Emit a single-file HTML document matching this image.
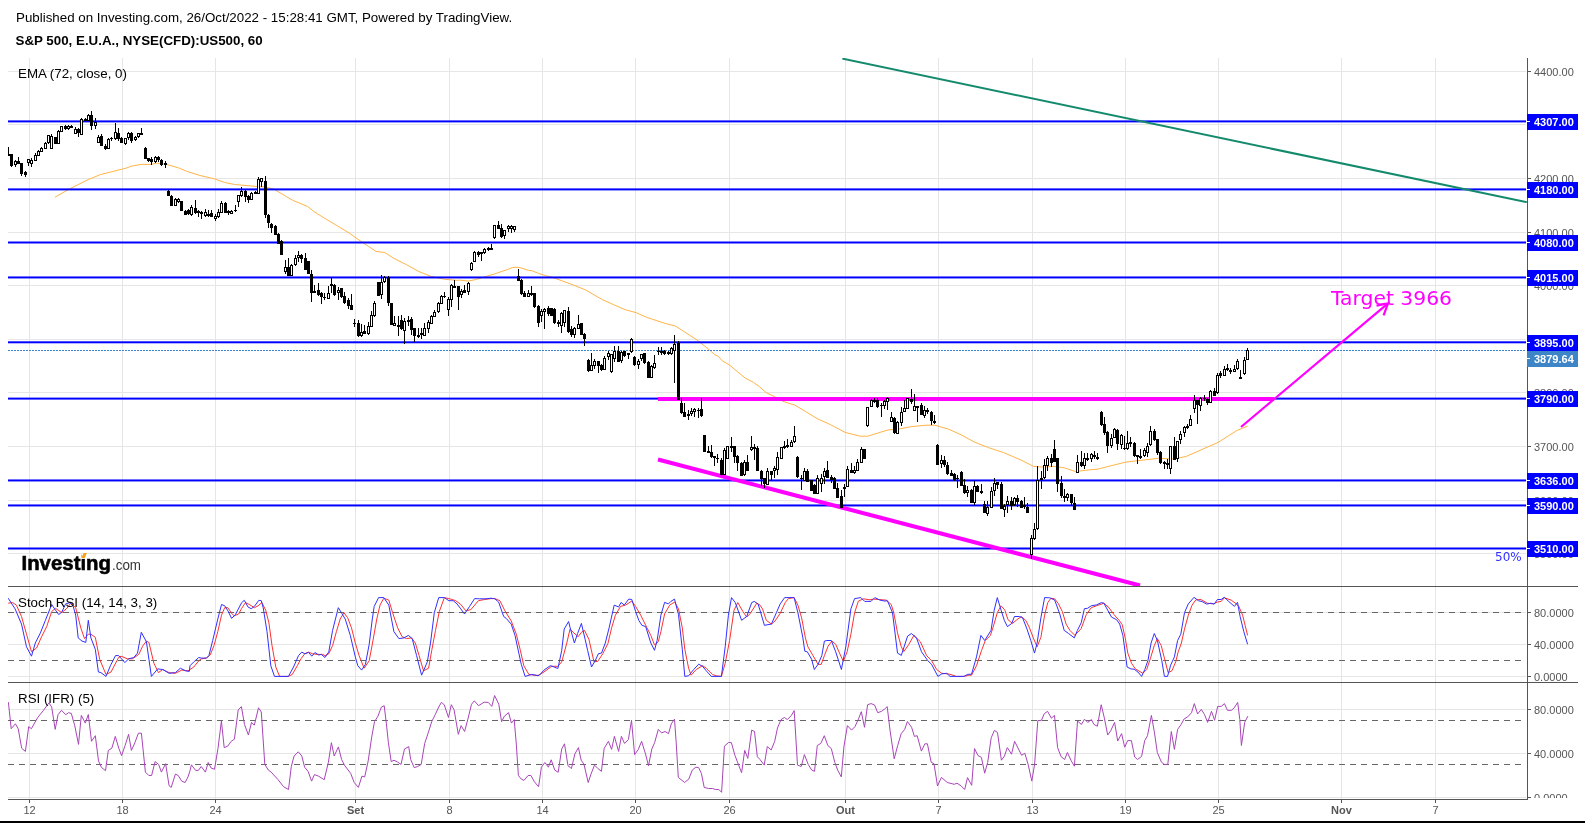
<!DOCTYPE html>
<html><head><meta charset="utf-8"><title>S&amp;P 500 chart</title>
<style>html,body{margin:0;padding:0;background:#fff;overflow:hidden}svg{display:block;will-change:transform}</style>
</head><body>
<svg width="1585" height="823" viewBox="0 0 1585 823" font-family="'Liberation Sans', Arial, sans-serif"><defs><clipPath id="cp"><rect x="8" y="58" width="1519" height="528"/></clipPath><clipPath id="cp2"><rect x="8" y="587" width="1519" height="95"/></clipPath><clipPath id="cp3"><rect x="8" y="683" width="1519" height="116"/></clipPath><clipPath id="cpa"><rect x="1528" y="683" width="57" height="115"/></clipPath></defs>
<rect x="29.0" y="58" width="1" height="741" fill="#e6e6e6"/>
<rect x="122.0" y="58" width="1" height="741" fill="#e6e6e6"/>
<rect x="215.0" y="58" width="1" height="741" fill="#e6e6e6"/>
<rect x="355.0" y="58" width="1" height="741" fill="#e6e6e6"/>
<rect x="449.0" y="58" width="1" height="741" fill="#e6e6e6"/>
<rect x="542.0" y="58" width="1" height="741" fill="#e6e6e6"/>
<rect x="635.0" y="58" width="1" height="741" fill="#e6e6e6"/>
<rect x="729.0" y="58" width="1" height="741" fill="#e6e6e6"/>
<rect x="845.0" y="58" width="1" height="741" fill="#e6e6e6"/>
<rect x="938.0" y="58" width="1" height="741" fill="#e6e6e6"/>
<rect x="1032.0" y="58" width="1" height="741" fill="#e6e6e6"/>
<rect x="1125.0" y="58" width="1" height="741" fill="#e6e6e6"/>
<rect x="1218.0" y="58" width="1" height="741" fill="#e6e6e6"/>
<rect x="1341.0" y="58" width="1" height="741" fill="#e6e6e6"/>
<rect x="1435.0" y="58" width="1" height="741" fill="#e6e6e6"/>
<rect x="8" y="71" width="1518" height="1" fill="#e6e6e6"/>
<rect x="8" y="124" width="1518" height="1" fill="#e6e6e6"/>
<rect x="8" y="178" width="1518" height="1" fill="#e6e6e6"/>
<rect x="8" y="232" width="1518" height="1" fill="#e6e6e6"/>
<rect x="8" y="285" width="1518" height="1" fill="#e6e6e6"/>
<rect x="8" y="339" width="1518" height="1" fill="#e6e6e6"/>
<rect x="8" y="392" width="1518" height="1" fill="#e6e6e6"/>
<rect x="8" y="446" width="1518" height="1" fill="#e6e6e6"/>
<rect x="8" y="500" width="1518" height="1" fill="#e6e6e6"/>
<rect x="8" y="553" width="1518" height="1" fill="#e6e6e6"/>
<rect x="8" y="612" width="1518" height="1" fill="#e6e6e6"/>
<rect x="8" y="644" width="1518" height="1" fill="#e6e6e6"/>
<rect x="8" y="676" width="1518" height="1" fill="#e6e6e6"/>
<rect x="8" y="709" width="1518" height="1" fill="#e6e6e6"/>
<rect x="8" y="753" width="1518" height="1" fill="#e6e6e6"/>
<rect x="8" y="797" width="1518" height="1" fill="#e6e6e6"/>
<line x1="8" y1="612.5" x2="1526" y2="612.5" stroke="#666" stroke-width="1" stroke-dasharray="6 5"/>
<line x1="8" y1="660.5" x2="1526" y2="660.5" stroke="#666" stroke-width="1" stroke-dasharray="6 5"/>
<line x1="8" y1="720.5" x2="1526" y2="720.5" stroke="#666" stroke-width="1" stroke-dasharray="6 5"/>
<line x1="8" y1="764.5" x2="1526" y2="764.5" stroke="#666" stroke-width="1" stroke-dasharray="6 5"/>
<polyline clip-path="url(#cp2)" points="8.2,603.2 12.6,602.6 16.4,605.1 21.5,616.5 26.5,634.2 31.5,651.8 36.6,648.0 41.6,636.7 46.7,626.6 51.7,611.5 55.5,608.3 61.8,612.7 66.9,608.3 70.7,603.2 75.7,607.7 80.8,627.9 84.5,638.6 88.3,634.2 90.9,634.2 95.3,637.3 99.7,659.4 106.0,674.5 111.0,672.0 118.6,657.5 121.1,656.2 127.4,658.8 132.5,658.8 138.8,654.4 142.6,646.2 146.4,641.1 148.9,642.4 153.9,663.2 158.4,672.6 162.8,669.5 169.1,672.6 175.4,673.3 181.7,670.1 188.0,670.8 190.0,669.5 193.8,667.0 198.8,660.7 201.4,658.8 206.4,658.1 210.2,655.0 214.0,645.5 217.8,631.6 221.5,615.2 224.7,607.7 227.9,607.7 231.6,613.3 234.2,615.9 238.6,614.0 241.7,608.3 245.5,602.6 249.3,604.5 254.4,607.7 258.1,605.8 261.9,602.6 265.7,610.2 268.9,622.8 272.0,645.5 275.8,667.0 279.6,676.4 288.4,676.4 292.2,674.5 297.3,665.7 301.0,658.8 304.8,653.7 308.6,652.1 312.4,653.7 317.4,654.4 322.5,654.4 325.0,655.6 328.8,653.7 332.6,645.5 336.4,631.6 340.2,619.0 343.9,612.7 347.7,617.8 351.5,627.9 355.3,643.0 359.1,655.6 364.1,668.2 369.2,660.7 372.3,644.3 376.8,619.0 380.0,605.1 383.8,598.2 388.8,600.1 392.6,612.7 397.7,627.9 402.1,636.7 406.5,638.6 411.5,637.9 415.3,643.0 419.1,655.6 423.5,670.8 428.6,668.2 431.7,650.6 435.5,630.4 439.3,611.5 444.4,597.6 450.7,599.1 455.7,600.7 460.8,604.5 465.8,610.8 470.9,609.6 478.4,600.7 484.7,599.5 491.0,598.6 494.8,598.6 499.9,600.7 504.9,610.8 511.2,620.9 516.3,634.2 520.1,649.3 523.8,665.7 528.9,674.5 537.7,675.6 544.0,672.0 551.6,666.3 557.9,666.3 561.7,661.9 566.8,643.0 570.0,629.1 573.8,632.9 578.2,636.7 581.4,632.3 584.5,630.4 588.9,639.2 594.0,661.9 597.8,661.3 602.8,653.7 607.9,643.6 611.6,627.9 615.4,615.2 620.5,606.4 625.5,605.1 631.8,601.1 635.6,606.4 640.7,615.2 645.7,625.3 650.8,635.4 654.5,644.9 658.3,641.7 660.9,631.6 664.6,614.0 669.7,605.1 674.7,602.0 678.5,608.9 682.3,627.9 684.8,649.3 688.6,668.2 691.1,675.2 696.2,669.5 702.5,665.7 706.3,668.2 712.6,674.5 716.4,675.8 721.4,676.4 725.2,663.2 729.6,640.5 734.0,610.2 737.8,602.6 742.9,611.5 746.7,617.1 750.4,613.3 756.8,603.2 760.0,605.1 762.5,608.9 766.3,620.3 771.4,624.1 775.1,620.9 780.2,613.3 785.2,602.6 788.4,598.6 794.1,597.6 797.9,605.1 801.6,617.8 805.4,637.9 807.9,646.8 813.0,655.6 818.0,664.4 821.2,664.4 824.4,655.6 828.1,646.2 831.9,641.1 835.7,644.3 839.5,653.1 843.3,661.3 847.1,651.8 850.9,634.2 854.6,612.7 858.4,601.1 863.5,598.8 869.8,599.8 873.6,599.1 878.6,599.5 886.2,600.1 891.2,604.5 893.8,612.7 897.5,632.9 901.3,646.8 903.8,651.6 908.9,644.3 913.9,635.4 920.3,641.7 926.6,655.6 931.6,660.7 936.7,669.5 941.7,673.3 948.0,673.9 950.0,674.3 956.3,676.4 963.9,676.4 968.9,675.2 971.5,675.2 976.5,665.7 981.5,650.6 985.3,640.5 990.4,635.4 992.9,627.9 997.3,612.7 1001.1,605.8 1004.9,610.2 1008.0,619.7 1012.5,623.4 1016.9,619.7 1021.3,616.5 1025.7,620.3 1029.5,627.9 1033.3,637.9 1037.1,646.8 1040.9,637.3 1044.6,615.2 1047.8,602.6 1050.9,598.2 1054.7,598.8 1058.5,603.9 1062.3,611.5 1066.1,624.1 1069.9,630.4 1074.9,635.4 1081.2,628.5 1086.3,614.6 1091.3,607.7 1096.4,605.8 1103.9,603.2 1109.0,607.7 1114.0,614.6 1119.1,620.3 1122.2,624.7 1125.2,637.9 1127.8,653.1 1131.5,663.2 1135.3,668.9 1142.9,673.3 1146.7,669.5 1150.5,658.1 1154.3,645.5 1157.4,638.6 1161.2,645.5 1164.4,658.1 1168.1,672.6 1171.9,670.8 1175.7,661.9 1178.2,651.8 1181.4,643.0 1184.5,629.1 1188.3,615.2 1192.1,605.1 1195.9,599.8 1200.9,599.5 1207.3,603.2 1213.6,603.9 1217.4,602.0 1221.1,601.4 1224.3,597.8 1231.2,600.1 1236.3,603.9 1238.8,606.4 1242.6,615.2 1245.1,625.3 1247.6,635.4" fill="none" stroke="#ff3030" stroke-width="1" stroke-linejoin="round"/><polyline clip-path="url(#cp2)" points="8.2,598.2 15.1,608.9 21.5,624.1 26.5,646.8 31.5,656.2 35.3,643.0 40.4,632.9 45.4,620.3 51.7,604.5 55.5,610.2 58.7,614.6 61.8,612.1 65.6,603.9 70.0,602.6 73.2,606.4 75.7,615.2 78.2,637.9 82.0,641.1 85.8,642.4 88.3,620.3 90.9,637.9 95.3,649.3 98.4,672.0 100.9,672.6 106.0,676.4 110.4,665.7 115.5,655.6 118.6,655.6 124.9,662.6 128.7,658.8 133.8,657.5 137.5,653.1 141.3,632.3 146.4,641.7 151.4,676.4 157.7,668.9 162.8,669.5 169.1,673.3 175.4,672.6 180.4,668.2 185.5,670.8 189.3,671.4 190.0,665.7 193.8,661.9 198.8,657.5 201.4,658.1 206.4,658.1 208.9,655.6 212.7,640.5 217.8,619.0 221.5,604.5 224.7,605.8 227.9,610.8 231.6,618.4 235.4,614.6 241.7,602.6 244.3,600.3 248.0,607.0 251.2,608.7 254.4,606.4 258.8,600.3 261.3,600.7 263.2,607.7 267.0,631.6 270.8,665.7 274.5,676.4 288.4,676.4 293.5,667.0 298.5,655.6 301.7,652.1 304.8,653.7 308.6,652.5 311.8,656.2 314.9,652.5 318.7,655.0 321.2,654.4 325.0,657.5 328.8,651.8 332.6,630.4 338.3,607.7 341.4,612.7 345.2,619.0 350.3,635.4 355.3,656.9 357.8,665.7 361.6,670.1 365.4,664.4 369.2,644.3 372.3,619.0 374.2,606.4 378.6,597.6 380.0,597.6 383.8,597.6 388.8,605.1 393.9,631.6 398.9,638.6 404.0,637.9 408.4,635.4 412.2,638.6 416.6,655.6 421.6,675.2 427.3,661.9 430.5,643.0 434.3,612.7 438.7,597.6 444.4,597.6 448.8,600.7 453.2,600.7 457.0,603.9 460.8,608.9 464.5,614.0 469.6,606.4 474.6,598.6 479.7,598.8 486.0,598.8 491.0,598.2 494.8,598.8 498.6,602.0 503.7,616.5 506.2,618.4 511.2,624.1 515.0,635.4 518.8,653.1 521.3,664.4 525.1,676.4 531.4,674.5 539.0,675.6 544.0,670.1 550.3,665.7 554.1,667.0 557.9,668.5 561.7,650.6 564.2,629.1 568.6,621.5 570.0,627.2 574.4,643.0 577.6,633.5 581.4,623.4 585.1,639.2 587.7,650.6 591.5,667.0 595.2,660.7 598.4,653.7 601.5,653.1 605.3,643.0 609.1,627.9 614.2,605.1 618.6,607.0 621.1,602.4 624.3,605.1 628.7,599.1 631.8,599.5 635.6,611.5 638.8,620.3 641.9,625.3 645.7,626.6 650.8,643.0 654.5,650.3 657.1,640.5 660.9,615.2 664.6,602.4 668.4,603.9 670.9,601.4 674.5,599.1 678.5,614.6 682.3,649.3 684.8,676.4 688.6,675.8 693.7,669.5 698.7,664.2 702.5,666.3 706.3,670.8 711.3,676.4 721.4,676.4 725.2,646.8 728.4,615.2 731.5,597.6 735.3,602.6 741.6,620.3 746.7,616.5 751.7,602.6 754.2,601.4 758.0,603.9 760.0,610.2 764.4,625.3 771.4,624.1 776.4,612.7 780.2,603.9 784.6,597.6 794.1,597.6 797.9,612.7 802.9,637.9 804.8,651.2 807.3,651.8 811.7,659.4 814.3,669.5 818.0,664.4 821.8,655.6 824.4,641.1 826.9,640.5 831.3,640.5 835.7,651.8 841.4,669.5 845.8,646.8 850.9,608.9 854.6,598.6 860.9,597.6 864.7,601.4 871.0,601.4 874.8,597.6 879.9,600.1 884.9,601.1 887.4,600.7 892.5,612.7 897.5,653.1 901.3,655.4 907.6,636.1 911.4,633.5 916.5,637.9 921.5,651.8 927.8,660.7 931.6,664.4 937.9,676.4 941.7,673.9 946.8,673.3 950.0,676.4 957.6,676.4 963.9,676.4 967.7,674.3 971.5,674.3 976.5,656.9 980.9,635.4 984.7,640.5 991.0,630.4 994.2,610.2 997.3,597.6 1001.1,610.2 1004.3,620.3 1007.4,626.6 1011.8,623.4 1014.4,616.5 1019.4,616.5 1022.6,617.8 1027.0,629.1 1030.8,640.5 1034.5,653.1 1037.1,643.0 1040.9,617.8 1044.6,597.6 1049.7,597.8 1054.7,600.1 1059.8,614.0 1064.2,630.4 1068.6,633.5 1074.3,637.9 1077.4,630.4 1081.2,622.8 1084.4,608.7 1087.5,608.3 1091.3,605.8 1096.4,604.9 1101.4,602.6 1103.9,603.2 1107.7,610.2 1111.5,617.1 1116.6,619.7 1119.7,624.1 1122.9,635.4 1127.1,667.0 1130.9,668.9 1134.1,669.2 1137.9,672.0 1141.6,676.4 1144.8,669.5 1147.9,660.7 1151.1,643.0 1154.3,633.5 1157.4,640.5 1161.8,660.7 1164.4,676.4 1167.5,676.4 1170.7,665.1 1174.4,656.9 1177.6,640.5 1180.8,634.2 1184.5,612.7 1188.3,603.9 1194.0,597.3 1198.4,600.7 1202.2,601.6 1206.6,604.1 1211.0,603.2 1214.2,604.1 1217.4,599.5 1221.1,599.5 1224.3,597.3 1228.7,601.4 1234.4,606.4 1237.5,602.4 1240.1,616.5 1243.8,631.6 1247.6,644.3" fill="none" stroke="#3030ff" stroke-width="1" stroke-linejoin="round"/><polyline clip-path="url(#cp3)" points="8.4,702.2 11.2,728.7 15.4,723.8 18.2,728.7 21.7,748.3 25.4,751.4 28.7,726.6 31.4,728.7 37.7,717.5 43.3,710.6 48.9,702.9 51.7,707.1 55.2,729.4 58.0,714.7 61.5,710.3 65.7,714.7 68.5,712.7 71.3,713.4 74.8,725.9 78.5,744.4 81.3,715.4 85.3,723.1 88.3,714.5 91.5,741.3 95.3,735.7 98.5,760.9 101.3,767.2 105.5,770.7 108.3,750.4 111.8,748.3 115.3,736.4 118.8,748.3 121.6,755.6 125.1,745.5 128.6,734.3 131.4,750.4 134.9,742.7 138.4,733.2 141.4,733.2 145.4,772.1 148.8,775.5 151.6,775.5 155.1,761.6 158.6,764.4 161.4,772.1 165.6,763.7 169.1,785.7 171.2,787.4 175.4,774.1 178.2,775.5 181.7,781.1 185.2,782.5 188.0,776.9 190.0,770.7 191.4,764.8 195.6,770.4 198.4,770.4 201.2,766.5 205.4,772.1 208.2,762.5 211.0,767.9 214.5,769.3 218.0,748.3 221.4,721.0 224.2,747.6 227.7,746.2 231.2,741.3 234.4,739.2 238.2,709.9 241.4,706.6 244.5,724.5 248.4,735.0 251.5,722.4 254.3,725.2 258.5,707.8 261.3,712.0 264.8,764.4 268.3,770.0 271.1,772.1 278.1,779.7 283.6,786.7 288.5,789.5 291.3,766.5 294.1,756.0 298.3,751.8 301.8,756.0 304.6,767.2 308.1,771.4 311.6,781.1 314.4,774.6 318.6,776.2 324.2,779.7 328.4,762.3 331.4,742.7 334.2,756.0 338.4,746.9 341.6,759.5 344.4,765.1 350.7,773.4 354.2,782.5 358.4,787.4 361.9,776.2 364.7,776.9 368.2,760.9 371.7,737.1 374.5,721.7 378.0,716.1 380.0,710.6 381.4,707.1 384.2,705.7 386.3,723.1 388.4,742.7 391.2,761.6 394.0,760.2 397.5,762.0 401.0,764.4 404.5,749.0 408.7,746.6 410.7,759.5 414.2,767.6 417.7,766.5 421.2,764.4 424.7,743.4 428.2,732.9 431.7,721.7 435.2,714.7 438.7,707.1 441.5,702.2 444.3,705.0 448.5,717.5 451.3,704.7 454.1,709.9 458.3,734.3 461.1,725.6 464.6,731.5 468.1,718.2 471.5,704.3 474.3,700.8 478.5,705.7 484.1,702.2 488.3,702.4 491.8,706.4 494.6,695.5 498.8,704.3 501.6,721.7 504.4,716.1 508.6,712.7 511.4,723.1 514.2,719.6 516.3,744.1 518.4,775.5 521.2,779.0 524.0,780.4 528.1,775.5 530.9,775.5 534.4,781.8 538.6,786.7 541.4,767.2 544.9,762.5 548.4,767.2 551.2,759.8 554.7,770.0 558.2,772.3 561.7,749.0 564.5,743.8 568.0,765.8 570.0,767.2 571.4,768.6 574.9,753.9 578.4,747.6 581.2,760.2 584.0,764.4 588.2,782.5 591.0,774.1 594.5,765.1 598.0,768.6 601.4,771.4 604.2,748.3 608.4,741.3 611.6,749.4 614.4,736.4 618.6,751.4 621.4,736.4 624.5,743.4 628.4,739.6 631.5,720.3 634.6,754.6 638.2,749.7 641.6,741.3 645.5,753.9 648.5,765.8 651.8,749.0 654.6,742.7 658.3,729.4 661.5,732.9 665.0,731.5 668.5,733.6 671.3,723.8 674.5,719.2 676.2,742.7 678.3,777.4 684.6,782.5 688.8,779.0 692.3,770.0 695.8,767.2 698.6,767.6 701.4,773.4 704.2,787.4 708.4,788.5 712.6,788.5 715.4,789.5 718.8,789.5 721.6,792.3 724.4,746.2 728.6,742.4 731.4,742.7 734.9,755.3 738.4,764.4 741.6,772.7 744.7,750.4 747.8,758.4 751.7,730.1 754.5,731.5 757.3,756.7 760.0,759.5 764.2,765.1 767.3,746.6 771.2,750.0 774.7,741.3 777.5,728.0 781.0,719.6 784.5,717.5 787.3,719.6 791.4,715.4 794.2,710.6 797.5,765.1 801.2,766.5 804.4,754.6 808.2,764.4 811.7,770.0 814.5,771.4 817.3,745.5 820.8,743.4 824.3,735.7 827.8,745.5 831.3,748.6 834.8,762.3 837.6,770.0 841.3,776.9 843.9,746.9 847.4,725.6 851.5,730.1 855.0,726.6 858.5,718.9 861.3,711.7 864.5,727.3 867.6,704.7 871.1,703.6 874.6,705.0 877.7,712.7 881.6,711.3 884.4,709.2 887.2,706.6 890.0,730.1 894.2,758.8 897.7,745.5 901.2,733.6 904.7,729.4 907.4,721.5 911.6,727.3 914.4,736.4 917.2,735.7 921.4,751.1 924.9,743.8 927.4,743.8 931.2,762.3 934.0,763.7 937.5,786.0 941.4,777.4 947.3,782.5 950.0,783.2 954.2,784.3 957.0,783.2 961.2,786.0 964.7,789.5 967.5,777.6 971.7,785.3 974.5,748.6 978.0,755.6 981.4,757.4 984.7,773.2 987.7,762.3 991.2,737.8 994.4,730.4 997.5,732.6 1001.4,760.2 1004.5,756.0 1007.3,747.6 1011.5,754.2 1014.6,741.3 1018.5,749.0 1021.6,755.3 1024.8,753.2 1028.3,765.1 1031.8,781.1 1034.6,764.4 1037.8,720.6 1041.5,720.3 1044.3,713.6 1047.6,711.3 1051.3,718.2 1054.5,715.4 1057.6,747.6 1061.1,756.7 1064.6,759.5 1067.4,752.5 1070.9,760.2 1074.4,766.2 1077.5,721.0 1081.4,724.5 1084.5,719.2 1087.7,722.4 1091.4,719.6 1094.0,724.5 1097.4,726.2 1101.2,704.7 1104.4,718.2 1107.7,735.0 1110.7,730.8 1114.6,722.4 1117.7,741.0 1121.6,733.6 1124.7,747.2 1127.7,740.6 1131.4,740.6 1134.7,757.0 1137.5,759.5 1141.6,756.4 1144.7,740.6 1147.5,735.7 1151.4,715.4 1154.5,732.9 1157.3,752.5 1161.5,762.3 1164.3,764.4 1167.8,764.4 1171.3,731.5 1174.4,749.4 1177.6,729.4 1181.1,724.5 1184.1,718.9 1187.8,716.8 1191.5,712.7 1194.3,703.6 1197.6,714.0 1201.3,709.4 1204.5,714.5 1207.6,722.4 1211.5,711.3 1214.6,720.3 1217.7,706.4 1221.3,706.4 1224.4,703.6 1227.5,710.3 1231.4,710.3 1234.2,707.8 1237.7,702.4 1239.8,719.6 1241.4,745.5 1244.7,722.4 1247.9,716.1" fill="none" stroke="#a845b8" stroke-width="1" stroke-linejoin="round"/>
<polyline points="54.9,197.2 70.7,188.3 88.3,179.5 101,174.4 113.6,171.3 126.2,168.1 131.2,166.2 141.3,164.4 151.4,164.4 156.5,163.1 166.6,164.4 179.2,168.1 186.7,171.3 200,175.5 214.3,178.8 224.4,182.4 234.5,184.5 256,186.4 264.9,187 273.7,189 286.3,196.5 292.7,200.3 307.8,206.6 314.1,211.7 324.2,218 336.9,225.6 349.5,233.2 359,240 368.4,246.3 376,251.4 384.9,252.6 393.7,258.3 406.3,264.6 419,271.6 431.6,276.6 444.2,279.2 456.9,280.4 460,280.1 468.3,281.1 475.5,279.6 485.8,276.5 496.2,273.4 506.5,269.8 512.7,267.5 517.9,267.2 522,268.2 528.2,270.3 532.3,270.8 538.5,273.4 544.7,275.4 553,277.5 560,280.1 573.6,285.1 585.7,290 602.1,299.5 614.8,305.2 624.9,309.6 636.2,312.7 646.3,317.2 665.3,323.5 675.4,326 684.2,331.7 696.9,339.9 709.5,350 714.6,354.6 718.5,356.5 722.4,360.9 729.2,364.8 737.9,372.1 745.7,378.4 753.4,382.3 759.3,386.6 766.1,392.5 773.9,396.4 782.6,401.2 791.3,404.1 793.9,404.5 805.3,411.4 817.9,419 830.6,424.7 845.1,432.4 860.3,436.2 867.8,436.2 888.1,429.9 898.2,429.2 910.8,426.7 926,425.2 934.8,425.2 948.7,429.2 961.3,434.9 974,441.9 988.4,447.6 1003.6,452.6 1020,459.6 1033.9,466.5 1045.3,467.2 1054.1,466.3 1064.2,467.8 1075.6,471.6 1085.3,470.3 1097.9,469.1 1110.5,465.9 1125.7,462.1 1142.1,460.2 1158.5,458.3 1173.7,459 1186.3,456.4 1199,450.8 1217.9,442.5 1236.9,430.5 1247.6,426.1" fill="none" stroke="#ffb347" stroke-width="1"/>
<rect x="8" y="120.40" width="1518" height="2" fill="#0000ff"/>
<rect x="8" y="188.40" width="1518" height="2" fill="#0000ff"/>
<rect x="8" y="241.50" width="1518" height="2" fill="#0000ff"/>
<rect x="8" y="276.45" width="1518" height="2" fill="#0000ff"/>
<rect x="8" y="341.30" width="1518" height="2" fill="#0000ff"/>
<rect x="8" y="397.60" width="1518" height="2" fill="#0000ff"/>
<rect x="8" y="479.45" width="1518" height="2" fill="#0000ff"/>
<rect x="8" y="504.45" width="1518" height="2" fill="#0000ff"/>
<rect x="8" y="547.50" width="1518" height="2" fill="#0000ff"/>
<line x1="8" y1="350.5" x2="1526" y2="350.5" stroke="#3d85c6" stroke-width="1" stroke-dasharray="2 1"/>
<g clip-path="url(#cp)">
<line x1="843.2" y1="58.8" x2="1526" y2="202.1" stroke="#148a6d" stroke-width="2" stroke-linecap="round"/>
<line x1="658" y1="399" x2="1274" y2="399" stroke="#ff00ff" stroke-width="4"/>
<line x1="658" y1="459.5" x2="1140" y2="585.5" stroke="#ff00ff" stroke-width="4"/>
<line x1="1241" y1="427" x2="1388" y2="303.4" stroke="#ff00ff" stroke-width="2.2"/>
<polyline points="1376.5,305.6 1388,303.4 1383.6,315.3" fill="none" stroke="#ff00ff" stroke-width="2.2"/>
</g>
<g fill="#000" clip-path="url(#cp)"><rect x="8" y="147" width="1" height="9"/><rect x="7" y="154" width="3" height="2"/><rect x="11" y="154" width="1" height="13"/><rect x="10" y="154" width="3" height="12"/><rect x="15" y="160" width="1" height="7"/><rect x="14.5" y="161.5" width="2" height="3" fill="#fff" stroke="#000"/><rect x="18" y="157" width="1" height="7"/><rect x="17" y="161" width="3" height="3"/><rect x="21" y="163" width="1" height="13"/><rect x="20" y="163" width="3" height="11"/><rect x="25" y="171" width="1" height="6"/><rect x="24" y="172" width="3" height="3"/><rect x="28" y="159" width="1" height="7"/><rect x="27.5" y="159.5" width="2" height="3" fill="#fff" stroke="#000"/><rect x="31" y="158" width="1" height="9"/><rect x="30.5" y="160.5" width="2" height="3" fill="#fff" stroke="#000"/><rect x="35" y="153" width="1" height="8"/><rect x="34.5" y="155.5" width="2" height="5" fill="#fff" stroke="#000"/><rect x="38" y="150" width="1" height="6"/><rect x="37.5" y="151.5" width="2" height="4" fill="#fff" stroke="#000"/><rect x="41" y="147" width="1" height="5"/><rect x="40.5" y="148.5" width="2" height="3" fill="#fff" stroke="#000"/><rect x="45" y="142" width="1" height="7"/><rect x="44.5" y="143.5" width="2" height="5" fill="#fff" stroke="#000"/><rect x="48" y="135" width="1" height="9"/><rect x="47.5" y="135.5" width="2" height="7" fill="#fff" stroke="#000"/><rect x="51" y="134" width="1" height="15"/><rect x="50.5" y="136.5" width="2" height="12" fill="#fff" stroke="#000"/><rect x="55" y="137" width="1" height="7"/><rect x="54" y="137" width="3" height="7"/><rect x="58" y="130" width="1" height="14"/><rect x="57.5" y="131.5" width="2" height="12" fill="#fff" stroke="#000"/><rect x="61" y="126" width="1" height="6"/><rect x="60.5" y="126.5" width="2" height="5" fill="#fff" stroke="#000"/><rect x="65" y="125" width="1" height="5"/><rect x="64" y="126" width="3" height="3"/><rect x="68" y="125" width="1" height="5"/><rect x="67.5" y="126.5" width="2" height="2" fill="#fff" stroke="#000"/><rect x="71" y="125" width="1" height="3"/><rect x="70" y="126" width="3" height="2"/><rect x="75" y="127" width="1" height="7"/><rect x="74.5" y="129.5" width="2" height="4" fill="#fff" stroke="#000"/><rect x="78" y="128" width="1" height="9"/><rect x="77" y="129" width="3" height="4"/><rect x="81" y="118" width="1" height="17"/><rect x="80.5" y="119.5" width="2" height="15" fill="#fff" stroke="#000"/><rect x="85" y="118" width="1" height="3"/><rect x="84" y="119" width="3" height="2"/><rect x="88" y="114" width="1" height="7"/><rect x="87.5" y="115.5" width="2" height="5" fill="#fff" stroke="#000"/><rect x="91" y="111" width="1" height="19"/><rect x="90" y="115" width="3" height="11"/><rect x="95" y="118" width="1" height="11"/><rect x="94.5" y="122.5" width="2" height="3" fill="#fff" stroke="#000"/><rect x="98" y="135" width="1" height="8"/><rect x="97.5" y="137.5" width="2" height="5" fill="#fff" stroke="#000"/><rect x="101" y="134" width="1" height="12"/><rect x="100" y="136" width="3" height="10"/><rect x="105" y="144" width="1" height="6"/><rect x="104" y="146" width="3" height="3"/><rect x="108" y="138" width="1" height="11"/><rect x="107.5" y="139.5" width="2" height="9" fill="#fff" stroke="#000"/><rect x="111" y="137" width="1" height="4"/><rect x="110" y="138" width="3" height="1"/><rect x="115" y="123" width="1" height="17"/><rect x="114.5" y="132.5" width="2" height="6" fill="#fff" stroke="#000"/><rect x="118" y="128" width="1" height="13"/><rect x="117" y="133" width="3" height="6"/><rect x="121" y="137" width="1" height="6"/><rect x="120" y="138" width="3" height="5"/><rect x="125" y="138" width="1" height="7"/><rect x="124.5" y="138.5" width="2" height="5" fill="#fff" stroke="#000"/><rect x="128" y="132" width="1" height="8"/><rect x="127.5" y="133.5" width="2" height="4" fill="#fff" stroke="#000"/><rect x="131" y="132" width="1" height="11"/><rect x="130" y="133" width="3" height="8"/><rect x="135" y="136" width="1" height="5"/><rect x="134.5" y="137.5" width="2" height="2" fill="#fff" stroke="#000"/><rect x="138" y="133" width="1" height="5"/><rect x="137.5" y="133.5" width="2" height="3" fill="#fff" stroke="#000"/><rect x="141" y="128" width="1" height="7"/><rect x="140" y="133" width="3" height="2"/><rect x="145" y="147" width="1" height="12"/><rect x="144" y="148" width="3" height="11"/><rect x="148" y="158" width="1" height="4"/><rect x="147" y="158" width="3" height="3"/><rect x="151" y="157" width="1" height="8"/><rect x="150" y="159" width="3" height="3"/><rect x="155" y="156" width="1" height="7"/><rect x="154.5" y="157.5" width="2" height="4" fill="#fff" stroke="#000"/><rect x="158" y="156" width="1" height="6"/><rect x="157" y="157" width="3" height="3"/><rect x="161" y="159" width="1" height="7"/><rect x="160" y="160" width="3" height="5"/><rect x="165" y="161" width="1" height="7"/><rect x="164" y="163" width="3" height="2"/><rect x="168" y="190" width="1" height="6"/><rect x="167" y="191" width="3" height="5"/><rect x="171" y="195" width="1" height="11"/><rect x="170" y="196" width="3" height="10"/><rect x="175" y="198" width="1" height="8"/><rect x="174.5" y="199.5" width="2" height="6" fill="#fff" stroke="#000"/><rect x="178" y="198" width="1" height="5"/><rect x="177.5" y="199.5" width="2" height="2" fill="#fff" stroke="#000"/><rect x="181" y="201" width="1" height="10"/><rect x="180" y="201" width="3" height="10"/><rect x="185" y="210" width="1" height="5"/><rect x="184" y="211" width="3" height="4"/><rect x="188" y="209" width="1" height="6"/><rect x="187" y="210" width="3" height="4"/><rect x="191" y="205" width="1" height="11"/><rect x="190.5" y="207.5" width="2" height="7" fill="#fff" stroke="#000"/><rect x="195" y="200" width="1" height="14"/><rect x="194" y="208" width="3" height="5"/><rect x="198" y="210" width="1" height="7"/><rect x="197" y="211" width="3" height="2"/><rect x="201" y="211" width="1" height="8"/><rect x="200" y="212" width="3" height="2"/><rect x="205" y="209" width="1" height="8"/><rect x="204.5" y="212.5" width="2" height="3" fill="#fff" stroke="#000"/><rect x="208" y="210" width="1" height="7"/><rect x="207" y="214" width="3" height="2"/><rect x="211" y="210" width="1" height="7"/><rect x="210" y="213" width="3" height="4"/><rect x="215" y="214" width="1" height="7"/><rect x="214.5" y="216.5" width="2" height="2" fill="#fff" stroke="#000"/><rect x="218" y="209" width="1" height="9"/><rect x="217.5" y="212.5" width="2" height="4" fill="#fff" stroke="#000"/><rect x="221" y="201" width="1" height="12"/><rect x="220.5" y="203.5" width="2" height="9" fill="#fff" stroke="#000"/><rect x="225" y="202" width="1" height="11"/><rect x="224" y="203" width="3" height="10"/><rect x="228" y="210" width="1" height="5"/><rect x="227" y="211" width="3" height="2"/><rect x="231" y="210" width="1" height="4"/><rect x="230.5" y="211.5" width="2" height="2" fill="#fff" stroke="#000"/><rect x="235" y="205" width="1" height="7"/><rect x="234" y="210" width="3" height="1"/><rect x="238" y="195" width="1" height="12"/><rect x="237.5" y="195.5" width="2" height="6" fill="#fff" stroke="#000"/><rect x="241" y="187" width="1" height="10"/><rect x="240.5" y="191.5" width="2" height="4" fill="#fff" stroke="#000"/><rect x="245" y="190" width="1" height="12"/><rect x="244" y="191" width="3" height="6"/><rect x="248" y="195" width="1" height="8"/><rect x="247" y="196" width="3" height="4"/><rect x="251" y="192" width="1" height="8"/><rect x="250.5" y="193.5" width="2" height="6" fill="#fff" stroke="#000"/><rect x="255" y="191" width="1" height="3"/><rect x="254" y="192" width="3" height="2"/><rect x="258" y="177" width="1" height="17"/><rect x="257.5" y="179.5" width="2" height="14" fill="#fff" stroke="#000"/><rect x="261" y="178" width="1" height="9"/><rect x="260.5" y="178.5" width="2" height="3" fill="#fff" stroke="#000"/><rect x="265" y="176" width="1" height="42"/><rect x="264" y="181" width="3" height="34"/><rect x="268" y="214" width="1" height="14"/><rect x="267" y="215" width="3" height="8"/><rect x="271" y="223" width="1" height="10"/><rect x="270" y="224" width="3" height="4"/><rect x="275" y="225" width="1" height="10"/><rect x="274" y="226" width="3" height="9"/><rect x="278" y="233" width="1" height="11"/><rect x="277" y="234" width="3" height="10"/><rect x="281" y="240" width="1" height="15"/><rect x="280" y="241" width="3" height="14"/><rect x="285" y="260" width="1" height="14"/><rect x="284.5" y="267.5" width="2" height="4" fill="#fff" stroke="#000"/><rect x="288" y="258" width="1" height="18"/><rect x="287" y="267" width="3" height="9"/><rect x="291" y="264" width="1" height="12"/><rect x="290.5" y="265.5" width="2" height="10" fill="#fff" stroke="#000"/><rect x="295" y="255" width="1" height="11"/><rect x="294.5" y="258.5" width="2" height="6" fill="#fff" stroke="#000"/><rect x="298" y="251" width="1" height="11"/><rect x="297.5" y="255.5" width="2" height="2" fill="#fff" stroke="#000"/><rect x="301" y="254" width="1" height="9"/><rect x="300" y="255" width="3" height="4"/><rect x="305" y="253" width="1" height="17"/><rect x="304" y="258" width="3" height="12"/><rect x="308" y="261" width="1" height="13"/><rect x="307" y="261" width="3" height="13"/><rect x="311" y="270" width="1" height="32"/><rect x="310" y="274" width="3" height="19"/><rect x="314" y="285" width="1" height="8"/><rect x="313" y="291" width="3" height="2"/><rect x="318" y="283" width="1" height="13"/><rect x="317" y="290" width="3" height="5"/><rect x="321" y="292" width="1" height="12"/><rect x="320" y="293" width="3" height="4"/><rect x="324" y="293" width="1" height="7"/><rect x="323" y="297" width="3" height="1"/><rect x="328" y="286" width="1" height="13"/><rect x="327.5" y="293.5" width="2" height="5" fill="#fff" stroke="#000"/><rect x="331" y="277" width="1" height="16"/><rect x="330" y="284" width="3" height="2"/><rect x="334" y="284" width="1" height="12"/><rect x="333" y="285" width="3" height="10"/><rect x="338" y="287" width="1" height="13"/><rect x="337.5" y="290.5" width="2" height="2" fill="#fff" stroke="#000"/><rect x="341" y="288" width="1" height="10"/><rect x="340" y="288" width="3" height="9"/><rect x="344" y="292" width="1" height="12"/><rect x="343" y="296" width="3" height="7"/><rect x="348" y="298" width="1" height="11"/><rect x="347" y="300" width="3" height="6"/><rect x="351" y="294" width="1" height="16"/><rect x="350" y="305" width="3" height="5"/><rect x="354" y="319" width="1" height="8"/><rect x="353" y="323" width="3" height="1"/><rect x="358" y="320" width="1" height="17"/><rect x="357" y="323" width="3" height="13"/><rect x="361" y="324" width="1" height="13"/><rect x="360.5" y="332.5" width="2" height="3" fill="#fff" stroke="#000"/><rect x="364" y="325" width="1" height="9"/><rect x="363" y="331" width="3" height="3"/><rect x="368" y="322" width="1" height="13"/><rect x="367.5" y="326.5" width="2" height="7" fill="#fff" stroke="#000"/><rect x="371" y="311" width="1" height="16"/><rect x="370.5" y="315.5" width="2" height="11" fill="#fff" stroke="#000"/><rect x="374" y="301" width="1" height="16"/><rect x="373.5" y="303.5" width="2" height="12" fill="#fff" stroke="#000"/><rect x="378" y="282" width="1" height="14"/><rect x="377" y="282" width="3" height="14"/><rect x="381" y="275" width="1" height="24"/><rect x="380.5" y="282.5" width="2" height="12" fill="#fff" stroke="#000"/><rect x="384" y="276" width="1" height="7"/><rect x="383.5" y="277.5" width="2" height="4" fill="#fff" stroke="#000"/><rect x="388" y="276" width="1" height="30"/><rect x="387" y="277" width="3" height="26"/><rect x="391" y="303" width="1" height="22"/><rect x="390" y="303" width="3" height="22"/><rect x="394" y="316" width="1" height="10"/><rect x="393.5" y="323.5" width="2" height="2" fill="#fff" stroke="#000"/><rect x="398" y="316" width="1" height="20"/><rect x="397" y="325" width="3" height="2"/><rect x="401" y="315" width="1" height="15"/><rect x="400" y="320" width="3" height="9"/><rect x="404" y="318" width="1" height="26"/><rect x="403.5" y="321.5" width="2" height="9" fill="#fff" stroke="#000"/><rect x="408" y="316" width="1" height="10"/><rect x="407" y="320" width="3" height="2"/><rect x="411" y="317" width="1" height="18"/><rect x="410" y="319" width="3" height="11"/><rect x="414" y="328" width="1" height="14"/><rect x="413" y="328" width="3" height="8"/><rect x="418" y="328" width="1" height="10"/><rect x="417" y="335" width="3" height="2"/><rect x="421" y="328" width="1" height="11"/><rect x="420" y="333" width="3" height="2"/><rect x="424" y="323" width="1" height="13"/><rect x="423.5" y="328.5" width="2" height="7" fill="#fff" stroke="#000"/><rect x="428" y="320" width="1" height="13"/><rect x="427.5" y="322.5" width="2" height="6" fill="#fff" stroke="#000"/><rect x="431" y="315" width="1" height="9"/><rect x="430.5" y="316.5" width="2" height="7" fill="#fff" stroke="#000"/><rect x="434" y="310" width="1" height="7"/><rect x="433.5" y="312.5" width="2" height="4" fill="#fff" stroke="#000"/><rect x="438" y="302" width="1" height="11"/><rect x="437.5" y="303.5" width="2" height="8" fill="#fff" stroke="#000"/><rect x="441" y="295" width="1" height="9"/><rect x="440.5" y="296.5" width="2" height="7" fill="#fff" stroke="#000"/><rect x="444" y="292" width="1" height="6"/><rect x="443" y="296" width="3" height="1"/><rect x="448" y="297" width="1" height="19"/><rect x="447.5" y="299.5" width="2" height="10" fill="#fff" stroke="#000"/><rect x="451" y="284" width="1" height="23"/><rect x="450.5" y="285.5" width="2" height="14" fill="#fff" stroke="#000"/><rect x="454" y="280" width="1" height="8"/><rect x="453" y="286" width="3" height="2"/><rect x="458" y="286" width="1" height="24"/><rect x="457" y="286" width="3" height="11"/><rect x="461" y="289" width="1" height="9"/><rect x="460.5" y="291.5" width="2" height="3" fill="#fff" stroke="#000"/><rect x="464" y="285" width="1" height="8"/><rect x="463" y="290" width="3" height="3"/><rect x="468" y="282" width="1" height="13"/><rect x="467.5" y="283.5" width="2" height="8" fill="#fff" stroke="#000"/><rect x="471" y="262" width="1" height="9"/><rect x="470.5" y="263.5" width="2" height="6" fill="#fff" stroke="#000"/><rect x="474" y="251" width="1" height="11"/><rect x="473.5" y="252.5" width="2" height="9" fill="#fff" stroke="#000"/><rect x="478" y="251" width="1" height="6"/><rect x="477" y="252" width="3" height="3"/><rect x="481" y="252" width="1" height="9"/><rect x="480" y="252" width="3" height="2"/><rect x="484" y="248" width="1" height="6"/><rect x="483.5" y="249.5" width="2" height="3" fill="#fff" stroke="#000"/><rect x="488" y="247" width="1" height="4"/><rect x="487" y="248" width="3" height="2"/><rect x="491" y="244" width="1" height="6"/><rect x="490" y="248" width="3" height="2"/><rect x="494" y="225" width="1" height="14"/><rect x="493.5" y="225.5" width="2" height="12" fill="#fff" stroke="#000"/><rect x="498" y="221" width="1" height="8"/><rect x="497" y="225" width="3" height="4"/><rect x="501" y="224" width="1" height="14"/><rect x="500" y="228" width="3" height="9"/><rect x="504" y="230" width="1" height="9"/><rect x="503.5" y="230.5" width="2" height="5" fill="#fff" stroke="#000"/><rect x="508" y="225" width="1" height="7"/><rect x="507.5" y="226.5" width="2" height="2" fill="#fff" stroke="#000"/><rect x="511" y="225" width="1" height="8"/><rect x="510.5" y="226.5" width="2" height="2" fill="#fff" stroke="#000"/><rect x="514" y="226" width="1" height="6"/><rect x="513.5" y="226.5" width="2" height="3" fill="#fff" stroke="#000"/><rect x="518" y="269" width="1" height="12"/><rect x="517" y="276" width="3" height="5"/><rect x="521" y="279" width="1" height="16"/><rect x="520" y="280" width="3" height="14"/><rect x="524" y="291" width="1" height="6"/><rect x="523" y="293" width="3" height="4"/><rect x="528" y="290" width="1" height="7"/><rect x="527.5" y="293.5" width="2" height="3" fill="#fff" stroke="#000"/><rect x="531" y="286" width="1" height="10"/><rect x="530" y="293" width="3" height="2"/><rect x="534" y="293" width="1" height="15"/><rect x="533" y="293" width="3" height="14"/><rect x="538" y="305" width="1" height="22"/><rect x="537" y="306" width="3" height="17"/><rect x="541" y="309" width="1" height="13"/><rect x="540.5" y="311.5" width="2" height="4" fill="#fff" stroke="#000"/><rect x="544" y="308" width="1" height="21"/><rect x="543.5" y="309.5" width="2" height="2" fill="#fff" stroke="#000"/><rect x="548" y="306" width="1" height="10"/><rect x="547" y="308" width="3" height="6"/><rect x="551" y="308" width="1" height="8"/><rect x="550" y="308" width="3" height="8"/><rect x="554" y="308" width="1" height="16"/><rect x="553" y="309" width="3" height="14"/><rect x="558" y="320" width="1" height="7"/><rect x="557" y="322" width="3" height="2"/><rect x="561" y="312" width="1" height="21"/><rect x="560.5" y="313.5" width="2" height="12" fill="#fff" stroke="#000"/><rect x="564" y="310" width="1" height="17"/><rect x="563.5" y="310.5" width="2" height="12" fill="#fff" stroke="#000"/><rect x="568" y="307" width="1" height="26"/><rect x="567" y="311" width="3" height="21"/><rect x="571" y="326" width="1" height="11"/><rect x="570" y="329" width="3" height="6"/><rect x="574" y="327" width="1" height="11"/><rect x="573.5" y="328.5" width="2" height="6" fill="#fff" stroke="#000"/><rect x="578" y="315" width="1" height="14"/><rect x="577.5" y="324.5" width="2" height="4" fill="#fff" stroke="#000"/><rect x="581" y="323" width="1" height="12"/><rect x="580" y="323" width="3" height="12"/><rect x="584" y="333" width="1" height="13"/><rect x="583" y="334" width="3" height="5"/><rect x="588" y="359" width="1" height="13"/><rect x="587" y="360" width="3" height="11"/><rect x="591" y="353" width="1" height="18"/><rect x="590.5" y="365.5" width="2" height="5" fill="#fff" stroke="#000"/><rect x="594" y="359" width="1" height="10"/><rect x="593.5" y="361.5" width="2" height="4" fill="#fff" stroke="#000"/><rect x="598" y="361" width="1" height="12"/><rect x="597" y="361" width="3" height="5"/><rect x="601" y="364" width="1" height="7"/><rect x="600" y="365" width="3" height="5"/><rect x="604" y="356" width="1" height="14"/><rect x="603.5" y="358.5" width="2" height="11" fill="#fff" stroke="#000"/><rect x="608" y="351" width="1" height="9"/><rect x="607.5" y="353.5" width="2" height="3" fill="#fff" stroke="#000"/><rect x="611" y="354" width="1" height="19"/><rect x="610.5" y="354.5" width="2" height="17" fill="#fff" stroke="#000"/><rect x="614" y="346" width="1" height="16"/><rect x="613.5" y="351.5" width="2" height="7" fill="#fff" stroke="#000"/><rect x="618" y="346" width="1" height="16"/><rect x="617" y="351" width="3" height="11"/><rect x="621" y="351" width="1" height="12"/><rect x="620.5" y="352.5" width="2" height="8" fill="#fff" stroke="#000"/><rect x="624" y="351" width="1" height="6"/><rect x="623" y="351" width="3" height="5"/><rect x="628" y="353" width="1" height="6"/><rect x="627" y="353" width="3" height="2"/><rect x="631" y="338" width="1" height="15"/><rect x="630.5" y="339.5" width="2" height="12" fill="#fff" stroke="#000"/><rect x="634" y="356" width="1" height="10"/><rect x="633" y="357" width="3" height="8"/><rect x="638" y="359" width="1" height="10"/><rect x="637.5" y="361.5" width="2" height="3" fill="#fff" stroke="#000"/><rect x="641" y="354" width="1" height="7"/><rect x="640.5" y="354.5" width="2" height="4" fill="#fff" stroke="#000"/><rect x="644" y="353" width="1" height="11"/><rect x="643" y="353" width="3" height="10"/><rect x="648" y="361" width="1" height="17"/><rect x="647" y="362" width="3" height="16"/><rect x="651" y="365" width="1" height="13"/><rect x="650.5" y="366.5" width="2" height="11" fill="#fff" stroke="#000"/><rect x="654" y="355" width="1" height="14"/><rect x="653.5" y="363.5" width="2" height="4" fill="#fff" stroke="#000"/><rect x="658" y="347" width="1" height="8"/><rect x="657" y="351" width="3" height="1"/><rect x="661" y="347" width="1" height="8"/><rect x="660" y="351" width="3" height="2"/><rect x="664" y="350" width="1" height="5"/><rect x="663" y="351" width="3" height="3"/><rect x="668" y="351" width="1" height="4"/><rect x="667" y="352" width="3" height="2"/><rect x="671" y="347" width="1" height="8"/><rect x="670.5" y="348.5" width="2" height="5" fill="#fff" stroke="#000"/><rect x="674" y="335" width="1" height="48"/><rect x="673.5" y="344.5" width="2" height="6" fill="#fff" stroke="#000"/><rect x="678" y="341" width="1" height="59"/><rect x="677" y="343" width="3" height="57"/><rect x="681" y="398" width="1" height="16"/><rect x="680" y="403" width="3" height="10"/><rect x="684" y="403" width="1" height="14"/><rect x="683" y="412" width="3" height="5"/><rect x="688" y="410" width="1" height="10"/><rect x="687" y="414" width="3" height="2"/><rect x="691" y="408" width="1" height="8"/><rect x="690.5" y="411.5" width="2" height="2" fill="#fff" stroke="#000"/><rect x="694" y="408" width="1" height="9"/><rect x="693.5" y="409.5" width="2" height="2" fill="#fff" stroke="#000"/><rect x="698" y="408" width="1" height="10"/><rect x="697" y="410" width="3" height="1"/><rect x="701" y="398" width="1" height="19"/><rect x="700" y="409" width="3" height="7"/><rect x="704" y="435" width="1" height="17"/><rect x="703" y="435" width="3" height="17"/><rect x="708" y="446" width="1" height="7"/><rect x="707" y="451" width="3" height="2"/><rect x="711" y="445" width="1" height="13"/><rect x="710" y="452" width="3" height="5"/><rect x="714" y="456" width="1" height="10"/><rect x="713" y="456" width="3" height="2"/><rect x="717" y="454" width="1" height="9"/><rect x="716" y="458" width="3" height="1"/><rect x="721" y="458" width="1" height="17"/><rect x="720" y="460" width="3" height="15"/><rect x="724" y="448" width="1" height="27"/><rect x="723.5" y="450.5" width="2" height="24" fill="#fff" stroke="#000"/><rect x="727" y="446" width="1" height="13"/><rect x="726.5" y="446.5" width="2" height="12" fill="#fff" stroke="#000"/><rect x="731" y="437" width="1" height="15"/><rect x="730" y="446" width="3" height="2"/><rect x="734" y="446" width="1" height="17"/><rect x="733" y="446" width="3" height="11"/><rect x="737" y="455" width="1" height="16"/><rect x="736" y="456" width="3" height="7"/><rect x="741" y="462" width="1" height="14"/><rect x="740" y="463" width="3" height="13"/><rect x="744" y="460" width="1" height="16"/><rect x="743.5" y="462.5" width="2" height="12" fill="#fff" stroke="#000"/><rect x="747" y="455" width="1" height="16"/><rect x="746" y="462" width="3" height="9"/><rect x="751" y="436" width="1" height="15"/><rect x="750.5" y="447.5" width="2" height="2" fill="#fff" stroke="#000"/><rect x="754" y="444" width="1" height="16"/><rect x="753" y="447" width="3" height="2"/><rect x="757" y="446" width="1" height="25"/><rect x="756" y="448" width="3" height="23"/><rect x="761" y="470" width="1" height="16"/><rect x="760" y="471" width="3" height="8"/><rect x="764" y="478" width="1" height="10"/><rect x="763" y="478" width="3" height="6"/><rect x="767" y="468" width="1" height="17"/><rect x="766.5" y="471.5" width="2" height="13" fill="#fff" stroke="#000"/><rect x="771" y="471" width="1" height="10"/><rect x="770" y="471" width="3" height="4"/><rect x="774" y="466" width="1" height="12"/><rect x="773.5" y="468.5" width="2" height="2" fill="#fff" stroke="#000"/><rect x="777" y="452" width="1" height="23"/><rect x="776.5" y="457.5" width="2" height="12" fill="#fff" stroke="#000"/><rect x="781" y="447" width="1" height="12"/><rect x="780.5" y="447.5" width="2" height="11" fill="#fff" stroke="#000"/><rect x="784" y="441" width="1" height="8"/><rect x="783" y="446" width="3" height="2"/><rect x="787" y="439" width="1" height="9"/><rect x="786" y="445" width="3" height="2"/><rect x="791" y="440" width="1" height="7"/><rect x="790.5" y="442.5" width="2" height="4" fill="#fff" stroke="#000"/><rect x="794" y="426" width="1" height="17"/><rect x="793.5" y="436.5" width="2" height="5" fill="#fff" stroke="#000"/><rect x="797" y="456" width="1" height="22"/><rect x="796" y="457" width="3" height="20"/><rect x="801" y="475" width="1" height="15"/><rect x="800" y="478" width="3" height="1"/><rect x="804" y="468" width="1" height="13"/><rect x="803.5" y="471.5" width="2" height="9" fill="#fff" stroke="#000"/><rect x="807" y="469" width="1" height="13"/><rect x="806" y="471" width="3" height="11"/><rect x="811" y="480" width="1" height="11"/><rect x="810" y="480" width="3" height="11"/><rect x="814" y="484" width="1" height="10"/><rect x="813" y="485" width="3" height="9"/><rect x="817" y="475" width="1" height="19"/><rect x="816.5" y="478.5" width="2" height="15" fill="#fff" stroke="#000"/><rect x="821" y="474" width="1" height="18"/><rect x="820.5" y="478.5" width="2" height="5" fill="#fff" stroke="#000"/><rect x="824" y="468" width="1" height="16"/><rect x="823.5" y="471.5" width="2" height="5" fill="#fff" stroke="#000"/><rect x="827" y="461" width="1" height="17"/><rect x="826" y="470" width="3" height="8"/><rect x="831" y="475" width="1" height="8"/><rect x="830" y="477" width="3" height="3"/><rect x="834" y="477" width="1" height="12"/><rect x="833" y="478" width="3" height="11"/><rect x="837" y="483" width="1" height="15"/><rect x="836" y="488" width="3" height="10"/><rect x="841" y="490" width="1" height="18"/><rect x="840" y="496" width="3" height="12"/><rect x="844" y="484" width="1" height="13"/><rect x="843" y="487" width="3" height="2"/><rect x="847" y="466" width="1" height="21"/><rect x="846.5" y="469.5" width="2" height="17" fill="#fff" stroke="#000"/><rect x="851" y="463" width="1" height="10"/><rect x="850" y="470" width="3" height="3"/><rect x="854" y="466" width="1" height="8"/><rect x="853.5" y="470.5" width="2" height="2" fill="#fff" stroke="#000"/><rect x="857" y="459" width="1" height="12"/><rect x="856.5" y="462.5" width="2" height="8" fill="#fff" stroke="#000"/><rect x="861" y="447" width="1" height="16"/><rect x="860.5" y="449.5" width="2" height="13" fill="#fff" stroke="#000"/><rect x="864" y="449" width="1" height="10"/><rect x="863" y="449" width="3" height="10"/><rect x="867" y="407" width="1" height="20"/><rect x="866.5" y="407.5" width="2" height="18" fill="#fff" stroke="#000"/><rect x="871" y="399" width="1" height="8"/><rect x="870.5" y="400.5" width="2" height="6" fill="#fff" stroke="#000"/><rect x="874" y="398" width="1" height="5"/><rect x="873" y="400" width="3" height="2"/><rect x="877" y="398" width="1" height="10"/><rect x="876" y="400" width="3" height="7"/><rect x="881" y="403" width="1" height="14"/><rect x="880" y="405" width="3" height="1"/><rect x="884" y="400" width="1" height="9"/><rect x="883.5" y="401.5" width="2" height="4" fill="#fff" stroke="#000"/><rect x="887" y="397" width="1" height="13"/><rect x="886.5" y="398.5" width="2" height="3" fill="#fff" stroke="#000"/><rect x="891" y="412" width="1" height="10"/><rect x="890.5" y="417.5" width="2" height="4" fill="#fff" stroke="#000"/><rect x="894" y="417" width="1" height="17"/><rect x="893" y="418" width="3" height="15"/><rect x="897" y="421" width="1" height="13"/><rect x="896.5" y="422.5" width="2" height="11" fill="#fff" stroke="#000"/><rect x="901" y="407" width="1" height="19"/><rect x="900.5" y="412.5" width="2" height="10" fill="#fff" stroke="#000"/><rect x="904" y="400" width="1" height="12"/><rect x="903.5" y="408.5" width="2" height="3" fill="#fff" stroke="#000"/><rect x="907" y="398" width="1" height="11"/><rect x="906.5" y="398.5" width="2" height="10" fill="#fff" stroke="#000"/><rect x="911" y="389" width="1" height="15"/><rect x="910" y="399" width="3" height="3"/><rect x="914" y="394" width="1" height="17"/><rect x="913.5" y="406.5" width="2" height="4" fill="#fff" stroke="#000"/><rect x="917" y="406" width="1" height="16"/><rect x="916" y="406" width="3" height="2"/><rect x="921" y="403" width="1" height="12"/><rect x="920" y="405" width="3" height="10"/><rect x="924" y="406" width="1" height="12"/><rect x="923.5" y="410.5" width="2" height="5" fill="#fff" stroke="#000"/><rect x="927" y="408" width="1" height="6"/><rect x="926" y="410" width="3" height="2"/><rect x="931" y="411" width="1" height="14"/><rect x="930" y="412" width="3" height="9"/><rect x="934" y="415" width="1" height="9"/><rect x="933" y="421" width="3" height="2"/><rect x="937" y="444" width="1" height="21"/><rect x="936" y="445" width="3" height="20"/><rect x="941" y="455" width="1" height="13"/><rect x="940.5" y="460.5" width="2" height="3" fill="#fff" stroke="#000"/><rect x="944" y="456" width="1" height="11"/><rect x="943" y="460" width="3" height="5"/><rect x="947" y="462" width="1" height="13"/><rect x="946" y="465" width="3" height="9"/><rect x="951" y="470" width="1" height="6"/><rect x="950" y="473" width="3" height="3"/><rect x="954" y="473" width="1" height="8"/><rect x="953" y="474" width="3" height="6"/><rect x="957" y="475" width="1" height="13"/><rect x="956" y="478" width="3" height="1"/><rect x="961" y="471" width="1" height="15"/><rect x="960" y="472" width="3" height="14"/><rect x="964" y="479" width="1" height="15"/><rect x="963" y="485" width="3" height="8"/><rect x="967" y="486" width="1" height="11"/><rect x="966.5" y="490.5" width="2" height="2" fill="#fff" stroke="#000"/><rect x="971" y="489" width="1" height="14"/><rect x="970" y="490" width="3" height="13"/><rect x="974" y="481" width="1" height="24"/><rect x="973.5" y="486.5" width="2" height="16" fill="#fff" stroke="#000"/><rect x="977" y="485" width="1" height="7"/><rect x="976" y="486" width="3" height="6"/><rect x="981" y="484" width="1" height="10"/><rect x="980" y="491" width="3" height="2"/><rect x="984" y="501" width="1" height="12"/><rect x="983" y="504" width="3" height="9"/><rect x="987" y="501" width="1" height="15"/><rect x="986.5" y="507.5" width="2" height="6" fill="#fff" stroke="#000"/><rect x="991" y="487" width="1" height="21"/><rect x="990.5" y="491.5" width="2" height="16" fill="#fff" stroke="#000"/><rect x="994" y="478" width="1" height="18"/><rect x="993.5" y="483.5" width="2" height="7" fill="#fff" stroke="#000"/><rect x="997" y="482" width="1" height="7"/><rect x="996" y="482" width="3" height="3"/><rect x="1001" y="482" width="1" height="27"/><rect x="1000" y="484" width="3" height="25"/><rect x="1004" y="504" width="1" height="13"/><rect x="1003.5" y="506.5" width="2" height="3" fill="#fff" stroke="#000"/><rect x="1007" y="496" width="1" height="17"/><rect x="1006.5" y="501.5" width="2" height="3" fill="#fff" stroke="#000"/><rect x="1011" y="497" width="1" height="13"/><rect x="1010" y="501" width="3" height="5"/><rect x="1014" y="497" width="1" height="9"/><rect x="1013.5" y="498.5" width="2" height="6" fill="#fff" stroke="#000"/><rect x="1017" y="495" width="1" height="12"/><rect x="1016" y="498" width="3" height="4"/><rect x="1021" y="500" width="1" height="8"/><rect x="1020" y="501" width="3" height="7"/><rect x="1024" y="497" width="1" height="12"/><rect x="1023" y="505" width="3" height="2"/><rect x="1027" y="503" width="1" height="10"/><rect x="1026" y="507" width="3" height="6"/><rect x="1031" y="535" width="1" height="24"/><rect x="1030.5" y="538.5" width="2" height="16" fill="#fff" stroke="#000"/><rect x="1034" y="523" width="1" height="17"/><rect x="1033.5" y="529.5" width="2" height="9" fill="#fff" stroke="#000"/><rect x="1037" y="466" width="1" height="64"/><rect x="1036.5" y="480.5" width="2" height="48" fill="#fff" stroke="#000"/><rect x="1041" y="471" width="1" height="18"/><rect x="1040" y="478" width="3" height="2"/><rect x="1044" y="459" width="1" height="20"/><rect x="1043.5" y="465.5" width="2" height="12" fill="#fff" stroke="#000"/><rect x="1047" y="456" width="1" height="15"/><rect x="1046.5" y="458.5" width="2" height="7" fill="#fff" stroke="#000"/><rect x="1051" y="454" width="1" height="13"/><rect x="1050" y="458" width="3" height="5"/><rect x="1054" y="440" width="1" height="22"/><rect x="1053" y="449" width="3" height="13"/><rect x="1057" y="458" width="1" height="34"/><rect x="1056" y="458" width="3" height="26"/><rect x="1061" y="476" width="1" height="22"/><rect x="1060" y="483" width="3" height="13"/><rect x="1064" y="489" width="1" height="13"/><rect x="1063" y="496" width="3" height="2"/><rect x="1067" y="493" width="1" height="8"/><rect x="1066.5" y="494.5" width="2" height="3" fill="#fff" stroke="#000"/><rect x="1071" y="494" width="1" height="12"/><rect x="1070" y="494" width="3" height="9"/><rect x="1074" y="497" width="1" height="13"/><rect x="1073" y="503" width="3" height="7"/><rect x="1077" y="455" width="1" height="18"/><rect x="1076.5" y="462.5" width="2" height="10" fill="#fff" stroke="#000"/><rect x="1081" y="451" width="1" height="16"/><rect x="1080" y="462" width="3" height="4"/><rect x="1084" y="453" width="1" height="16"/><rect x="1083.5" y="458.5" width="2" height="7" fill="#fff" stroke="#000"/><rect x="1087" y="453" width="1" height="8"/><rect x="1086" y="458" width="3" height="2"/><rect x="1091" y="453" width="1" height="9"/><rect x="1090.5" y="454.5" width="2" height="4" fill="#fff" stroke="#000"/><rect x="1094" y="451" width="1" height="8"/><rect x="1093" y="455" width="3" height="2"/><rect x="1097" y="453" width="1" height="7"/><rect x="1096" y="457" width="3" height="2"/><rect x="1101" y="411" width="1" height="15"/><rect x="1100" y="412" width="3" height="13"/><rect x="1104" y="417" width="1" height="18"/><rect x="1103" y="424" width="3" height="9"/><rect x="1107" y="431" width="1" height="22"/><rect x="1106" y="432" width="3" height="14"/><rect x="1111" y="434" width="1" height="14"/><rect x="1110.5" y="438.5" width="2" height="7" fill="#fff" stroke="#000"/><rect x="1114" y="428" width="1" height="10"/><rect x="1113.5" y="429.5" width="2" height="8" fill="#fff" stroke="#000"/><rect x="1117" y="429" width="1" height="21"/><rect x="1116" y="430" width="3" height="14"/><rect x="1121" y="434" width="1" height="15"/><rect x="1120.5" y="435.5" width="2" height="9" fill="#fff" stroke="#000"/><rect x="1124" y="436" width="1" height="14"/><rect x="1123" y="448" width="3" height="1"/><rect x="1127" y="431" width="1" height="19"/><rect x="1126.5" y="443.5" width="2" height="5" fill="#fff" stroke="#000"/><rect x="1130" y="437" width="1" height="10"/><rect x="1129" y="442" width="3" height="2"/><rect x="1134" y="442" width="1" height="15"/><rect x="1133" y="443" width="3" height="13"/><rect x="1137" y="455" width="1" height="9"/><rect x="1136" y="455" width="3" height="2"/><rect x="1140" y="449" width="1" height="10"/><rect x="1139" y="456" width="3" height="2"/><rect x="1144" y="448" width="1" height="9"/><rect x="1143.5" y="450.5" width="2" height="5" fill="#fff" stroke="#000"/><rect x="1147" y="443" width="1" height="14"/><rect x="1146.5" y="446.5" width="2" height="6" fill="#fff" stroke="#000"/><rect x="1150" y="426" width="1" height="20"/><rect x="1149.5" y="431.5" width="2" height="13" fill="#fff" stroke="#000"/><rect x="1154" y="429" width="1" height="12"/><rect x="1153" y="431" width="3" height="9"/><rect x="1157" y="439" width="1" height="16"/><rect x="1156" y="439" width="3" height="14"/><rect x="1160" y="451" width="1" height="13"/><rect x="1159" y="452" width="3" height="11"/><rect x="1164" y="461" width="1" height="8"/><rect x="1163" y="462" width="3" height="2"/><rect x="1167" y="459" width="1" height="10"/><rect x="1166" y="463" width="3" height="2"/><rect x="1170" y="446" width="1" height="28"/><rect x="1169.5" y="446.5" width="2" height="22" fill="#fff" stroke="#000"/><rect x="1174" y="437" width="1" height="23"/><rect x="1173" y="446" width="3" height="14"/><rect x="1177" y="441" width="1" height="21"/><rect x="1176.5" y="441.5" width="2" height="17" fill="#fff" stroke="#000"/><rect x="1180" y="431" width="1" height="13"/><rect x="1179.5" y="434.5" width="2" height="5" fill="#fff" stroke="#000"/><rect x="1184" y="426" width="1" height="11"/><rect x="1183.5" y="427.5" width="2" height="5" fill="#fff" stroke="#000"/><rect x="1187" y="424" width="1" height="5"/><rect x="1186" y="426" width="3" height="2"/><rect x="1190" y="415" width="1" height="11"/><rect x="1189.5" y="419.5" width="2" height="6" fill="#fff" stroke="#000"/><rect x="1194" y="395" width="1" height="18"/><rect x="1193.5" y="400.5" width="2" height="8" fill="#fff" stroke="#000"/><rect x="1197" y="400" width="1" height="24"/><rect x="1196" y="400" width="3" height="5"/><rect x="1200" y="397" width="1" height="14"/><rect x="1199.5" y="398.5" width="2" height="7" fill="#fff" stroke="#000"/><rect x="1204" y="395" width="1" height="6"/><rect x="1203" y="398" width="3" height="1"/><rect x="1207" y="398" width="1" height="7"/><rect x="1206" y="399" width="3" height="4"/><rect x="1210" y="390" width="1" height="13"/><rect x="1209.5" y="391.5" width="2" height="11" fill="#fff" stroke="#000"/><rect x="1214" y="388" width="1" height="8"/><rect x="1213" y="391" width="3" height="5"/><rect x="1217" y="373" width="1" height="21"/><rect x="1216.5" y="375.5" width="2" height="17" fill="#fff" stroke="#000"/><rect x="1220" y="371" width="1" height="7"/><rect x="1219" y="373" width="3" height="3"/><rect x="1224" y="366" width="1" height="10"/><rect x="1223.5" y="369.5" width="2" height="6" fill="#fff" stroke="#000"/><rect x="1227" y="364" width="1" height="7"/><rect x="1226" y="368" width="3" height="2"/><rect x="1230" y="368" width="1" height="6"/><rect x="1229" y="370" width="3" height="2"/><rect x="1234" y="365" width="1" height="7"/><rect x="1233.5" y="369.5" width="2" height="2" fill="#fff" stroke="#000"/><rect x="1237" y="359" width="1" height="11"/><rect x="1236.5" y="361.5" width="2" height="7" fill="#fff" stroke="#000"/><rect x="1240" y="370" width="1" height="9"/><rect x="1239" y="377" width="3" height="2"/><rect x="1244" y="357" width="1" height="18"/><rect x="1243.5" y="360.5" width="2" height="13" fill="#fff" stroke="#000"/><rect x="1247" y="348" width="1" height="12"/><rect x="1246.5" y="350.5" width="2" height="9" fill="#fff" stroke="#000"/></g>
<text x="1331" y="305" font-family="'DejaVu Sans', sans-serif" font-size="20.2" fill="#ff00ff" textLength="121" lengthAdjust="spacingAndGlyphs">Target 3966</text>
<text x="1495" y="561" font-family="'DejaVu Sans', sans-serif" font-size="12" fill="#3030ff">50%</text>
<rect x="1527" y="58" width="1" height="742" fill="#555555"/>
<rect x="8" y="586" width="1570" height="1" fill="#555555"/>
<rect x="8" y="682" width="1570" height="1" fill="#555555"/>
<rect x="8" y="799" width="1520" height="1" fill="#555555"/>
<rect x="1528" y="71" width="3" height="1" fill="#555555"/>
<text x="1534" y="75.5" font-size="11" fill="#555555">4400.00</text>
<rect x="1528" y="124" width="3" height="1" fill="#555555"/>
<text x="1534" y="128.5" font-size="11" fill="#555555">4300.00</text>
<rect x="1528" y="178" width="3" height="1" fill="#555555"/>
<text x="1534" y="182.5" font-size="11" fill="#555555">4200.00</text>
<rect x="1528" y="232" width="3" height="1" fill="#555555"/>
<text x="1534" y="236.5" font-size="11" fill="#555555">4100.00</text>
<rect x="1528" y="285" width="3" height="1" fill="#555555"/>
<text x="1534" y="289.5" font-size="11" fill="#555555">4000.00</text>
<rect x="1528" y="339" width="3" height="1" fill="#555555"/>
<text x="1534" y="343.5" font-size="11" fill="#555555">3900.00</text>
<rect x="1528" y="392" width="3" height="1" fill="#555555"/>
<text x="1534" y="396.5" font-size="11" fill="#555555">3800.00</text>
<rect x="1528" y="446" width="3" height="1" fill="#555555"/>
<text x="1534" y="450.5" font-size="11" fill="#555555">3700.00</text>
<rect x="1528" y="500" width="3" height="1" fill="#555555"/>
<text x="1534" y="504.5" font-size="11" fill="#555555">3600.00</text>
<rect x="1528" y="553" width="3" height="1" fill="#555555"/>
<text x="1534" y="557.5" font-size="11" fill="#555555">3500.00</text>
<rect x="1528" y="612" width="3" height="1" fill="#555555"/>
<text x="1534" y="616.5" font-size="11" fill="#555555">80.0000</text>
<rect x="1528" y="644" width="3" height="1" fill="#555555"/>
<text x="1534" y="648.5" font-size="11" fill="#555555">40.0000</text>
<rect x="1528" y="676" width="3" height="1" fill="#555555"/>
<text x="1534" y="680.5" font-size="11" fill="#555555">0.0000</text>
<rect x="1528" y="709" width="3" height="1" fill="#555555"/>
<text x="1534" y="713.5" font-size="11" fill="#555555">80.0000</text>
<rect x="1528" y="753" width="3" height="1" fill="#555555"/>
<text x="1534" y="757.5" font-size="11" fill="#555555">40.0000</text>
<rect x="1528" y="797" width="3" height="1" fill="#555555"/>
<text x="1534" y="801.5" font-size="11" fill="#555555" clip-path="url(#cpa)">0.0000</text>
<rect x="1527" y="114" width="51" height="16" fill="#0000ff"/>
<rect x="1527" y="121" width="3" height="1" fill="#fff"/>
<text x="1534" y="126" font-size="11" font-weight="bold" fill="#fff">4307.00</text>
<rect x="1527" y="182" width="51" height="16" fill="#0000ff"/>
<rect x="1527" y="189" width="3" height="1" fill="#fff"/>
<text x="1534" y="194" font-size="11" font-weight="bold" fill="#fff">4180.00</text>
<rect x="1527" y="235" width="51" height="16" fill="#0000ff"/>
<rect x="1527" y="242" width="3" height="1" fill="#fff"/>
<text x="1534" y="247" font-size="11" font-weight="bold" fill="#fff">4080.00</text>
<rect x="1527" y="270" width="51" height="16" fill="#0000ff"/>
<rect x="1527" y="277" width="3" height="1" fill="#fff"/>
<text x="1534" y="282" font-size="11" font-weight="bold" fill="#fff">4015.00</text>
<rect x="1527" y="335" width="51" height="16" fill="#0000ff"/>
<rect x="1527" y="342" width="3" height="1" fill="#fff"/>
<text x="1534" y="347" font-size="11" font-weight="bold" fill="#fff">3895.00</text>
<rect x="1527" y="391" width="51" height="16" fill="#0000ff"/>
<rect x="1527" y="398" width="3" height="1" fill="#fff"/>
<text x="1534" y="403" font-size="11" font-weight="bold" fill="#fff">3790.00</text>
<rect x="1527" y="473" width="51" height="16" fill="#0000ff"/>
<rect x="1527" y="480" width="3" height="1" fill="#fff"/>
<text x="1534" y="485" font-size="11" font-weight="bold" fill="#fff">3636.00</text>
<rect x="1527" y="498" width="51" height="16" fill="#0000ff"/>
<rect x="1527" y="505" width="3" height="1" fill="#fff"/>
<text x="1534" y="510" font-size="11" font-weight="bold" fill="#fff">3590.00</text>
<rect x="1527" y="541" width="51" height="16" fill="#0000ff"/>
<rect x="1527" y="548" width="3" height="1" fill="#fff"/>
<text x="1534" y="553" font-size="11" font-weight="bold" fill="#fff">3510.00</text>
<rect x="1527" y="351" width="51" height="16" fill="#3d85c6"/>
<rect x="1527" y="358" width="3" height="1" fill="#fff"/>
<text x="1534" y="363" font-size="11" font-weight="bold" fill="#fff">3879.64</text>
<rect x="29.0" y="800" width="1" height="3" fill="#555555"/>
<text x="29.5" y="814" font-size="11" fill="#555555" text-anchor="middle">12</text>
<rect x="122.0" y="800" width="1" height="3" fill="#555555"/>
<text x="122.5" y="814" font-size="11" fill="#555555" text-anchor="middle">18</text>
<rect x="215.0" y="800" width="1" height="3" fill="#555555"/>
<text x="215.5" y="814" font-size="11" fill="#555555" text-anchor="middle">24</text>
<rect x="355.0" y="800" width="1" height="3" fill="#555555"/>
<text x="355.5" y="814" font-size="11" fill="#555555" text-anchor="middle" font-weight="bold">Set</text>
<rect x="449.0" y="800" width="1" height="3" fill="#555555"/>
<text x="449.5" y="814" font-size="11" fill="#555555" text-anchor="middle">8</text>
<rect x="542.0" y="800" width="1" height="3" fill="#555555"/>
<text x="542.5" y="814" font-size="11" fill="#555555" text-anchor="middle">14</text>
<rect x="635.0" y="800" width="1" height="3" fill="#555555"/>
<text x="635.5" y="814" font-size="11" fill="#555555" text-anchor="middle">20</text>
<rect x="729.0" y="800" width="1" height="3" fill="#555555"/>
<text x="729.5" y="814" font-size="11" fill="#555555" text-anchor="middle">26</text>
<rect x="845.0" y="800" width="1" height="3" fill="#555555"/>
<text x="845.5" y="814" font-size="11" fill="#555555" text-anchor="middle" font-weight="bold">Out</text>
<rect x="938.0" y="800" width="1" height="3" fill="#555555"/>
<text x="938.5" y="814" font-size="11" fill="#555555" text-anchor="middle">7</text>
<rect x="1032.0" y="800" width="1" height="3" fill="#555555"/>
<text x="1032.5" y="814" font-size="11" fill="#555555" text-anchor="middle">13</text>
<rect x="1125.0" y="800" width="1" height="3" fill="#555555"/>
<text x="1125.5" y="814" font-size="11" fill="#555555" text-anchor="middle">19</text>
<rect x="1218.0" y="800" width="1" height="3" fill="#555555"/>
<text x="1218.5" y="814" font-size="11" fill="#555555" text-anchor="middle">25</text>
<rect x="1341.0" y="800" width="1" height="3" fill="#555555"/>
<text x="1341.5" y="814" font-size="11" fill="#555555" text-anchor="middle" font-weight="bold">Nov</text>
<rect x="1435.0" y="800" width="1" height="3" fill="#555555"/>
<text x="1435.5" y="814" font-size="11" fill="#555555" text-anchor="middle">7</text>
<text x="16" y="22" font-size="13.33" fill="#000">Published on Investing.com, 26/Oct/2022 - 15:28:41 GMT, Powered by TradingView.</text>
<text x="15.5" y="45" font-size="13.33" font-weight="bold" fill="#000">S&amp;P 500, E.U.A., NYSE(CFD):US500, 60</text>
<text x="18" y="78" font-size="13.33" fill="#000">EMA (72, close, 0)</text>
<text x="18" y="606.5" font-size="13.33" fill="#000">Stoch RSI (14, 14, 3, 3)</text>
<text x="18" y="702.5" font-size="13.33" fill="#000">RSI (IFR) (5)</text>
<text id="logo" x="21.5" y="570" font-size="21" font-weight="bold" fill="#000" stroke="#000" stroke-width="0.6" textLength="89.5" lengthAdjust="spacingAndGlyphs">Investing</text>
<rect x="81.6" y="554" width="4.4" height="4.6" fill="#fff"/><polygon points="81.4,558 83.6,553.1 86.8,553.1 84.8,558" fill="#f5a01e"/>
<text id="logo2" x="112" y="570" font-size="15.5" fill="#333" textLength="29" lengthAdjust="spacingAndGlyphs">.com</text>
<rect x="0" y="821" width="1585" height="2" fill="#000"/></svg>
</body></html>
